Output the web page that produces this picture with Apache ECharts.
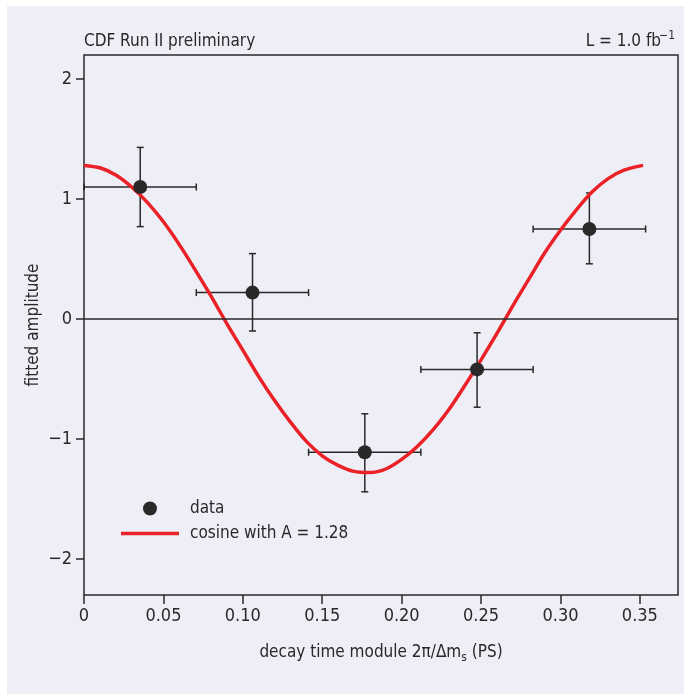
<!DOCTYPE html>
<html>
<head>
<meta charset="utf-8">
<script src="https://cdn.jsdelivr.net/npm/echarts@6/dist/echarts.min.js"></script>
<style>
  html, body { margin: 0; padding: 0; background: #ffffff; }
  #panel { position: absolute; left: 7px; top: 6px; width: 677px; height: 688px; background: #eeeef7; }
  #chart { position: absolute; left: 0; top: 0; width: 684px; height: 694px; }
</style>
</head>
<body>
<div id="panel"></div>
<div id="chart"></div>
<script>
// Binned asymmetry measurement (bin centres, bin edges, amplitude and its error band)
const binCenter = [0.0354, 0.1061, 0.1768, 0.2475, 0.3182];
const binLow    = [0.0000, 0.0707, 0.1414, 0.2121, 0.2828];
const binHigh   = [0.0707, 0.1414, 0.2121, 0.2828, 0.3536];
const amplitude = [1.10, 0.22, -1.11, -0.42, 0.75];
const ampLow    = [0.77, -0.10, -1.44, -0.735, 0.46];
const ampHigh   = [1.43, 0.545, -0.79, -0.115, 1.05];

// Fitted cosine curve, sampled along the decay-time axis
const fitT = [0.00, 0.01, 0.02, 0.03, 0.04, 0.05, 0.06, 0.07, 0.08, 0.09,
              0.10, 0.11, 0.12, 0.13, 0.14, 0.15, 0.16, 0.17, 0.18, 0.19,
              0.20, 0.21, 0.22, 0.23, 0.24, 0.25, 0.26, 0.27, 0.28, 0.29,
              0.30, 0.31, 0.32, 0.33, 0.34, 0.352];
const fitA = [1.28, 1.26, 1.20, 1.10, 0.97, 0.81, 0.62, 0.41, 0.19, -0.04,
              -0.26, -0.48, -0.68, -0.86, -1.02, -1.14, -1.22, -1.27, -1.28, -1.25,
              -1.17, -1.06, -0.92, -0.75, -0.55, -0.34, -0.12, 0.11, 0.33, 0.55,
              0.74, 0.91, 1.06, 1.17, 1.24, 1.28];

// Axis ticks
const xTicks = [0, 0.05, 0.10, 0.15, 0.20, 0.25, 0.30, 0.35];
const yTicks = [-2, -1, 0, 1, 2];

const FONT = "'Liberation Sans Narrow', 'DejaVu Sans Condensed', 'Liberation Sans', sans-serif";
const INK = '#2a2828';
const RED = '#ea2127';

const points = binCenter.map((x, i) => [x, amplitude[i]]);
const bars = binCenter.map((x, i) => [x, amplitude[i], binLow[i], binHigh[i], ampLow[i], ampHigh[i]]);
const curve = fitT.map((t, i) => [t, fitA[i]]);

const chart = echarts.init(document.getElementById('chart'), null, { renderer: 'canvas' });

chart.setOption({
  animation: false,
  backgroundColor: 'transparent',
  textStyle: { fontFamily: FONT, color: INK },
  grid: {
    left: 84, right: 6, top: 55, bottom: 99,
    show: true, borderColor: INK, borderWidth: 1.5, backgroundColor: 'transparent'
  },
  xAxis: {
    type: 'value', min: 0, max: 0.374,
    axisLine: { show: false, onZero: false },
    splitLine: { show: false },
    axisTick: { show: true, inside: false, length: 9, customValues: xTicks, lineStyle: { color: INK, width: 1.5 } },
    axisLabel: {
      customValues: xTicks, margin: 12, fontSize: 18, color: INK, fontFamily: FONT,
      formatter: v => v === 0 ? '0' : v.toFixed(2)
    },
    name: '{t|decay time module 2π/Δm}{s|s}{t| (PS)}',
    nameLocation: 'middle',
    nameGap: 47,
    nameTextStyle: {
      rich: {
        t: { fontSize: 17, color: INK, fontFamily: FONT },
        s: { fontSize: 12, color: INK, fontFamily: FONT, padding: [10, 0, 0, 0] }
      }
    }
  },
  yAxis: {
    type: 'value', min: -2.3, max: 2.2,
    axisLine: { show: false, onZero: false },
    splitLine: { show: false },
    axisTick: { show: true, inside: false, length: 8, customValues: yTicks, lineStyle: { color: INK, width: 1.5 } },
    axisLabel: {
      customValues: yTicks, margin: 12, fontSize: 18, color: INK, fontFamily: FONT,
      formatter: v => v < 0 ? '\u2212' + Math.abs(v) : String(v)
    },
    name: 'fitted amplitude',
    nameLocation: 'middle',
    nameGap: 42,
    nameMoveOverlap: false,
    nameTextStyle: { fontSize: 17, color: INK, fontFamily: FONT }
  },
  legend: {
    left: 116, top: 495, orient: 'vertical',
    itemWidth: 58, itemHeight: 14, itemGap: 8,
    textStyle: { fontSize: 17, color: INK, fontFamily: FONT, padding: [0, 0, 0, 6] },
    data: [
      { name: 'data', icon: 'circle', itemStyle: { color: INK } },
      { name: 'cosine with A = 1.28', icon: 'path://M0,0 L58,0 L58,3.5 L0,3.5 Z', itemStyle: { color: RED } }
    ]
  },
  graphic: [
    { type: 'text', left: 84, top: 33, style: { text: 'CDF Run II preliminary', font: '17px ' + FONT, fill: INK } },
    { type: 'text', right: 23, top: 33, style: { text: 'L = 1.0 fb', font: '17px ' + FONT, fill: INK } },
    { type: 'text', right: 9, top: 30, style: { text: '\u22121', font: '12px ' + FONT, fill: INK } }
  ],
  series: [
    {
      name: 'errors',
      type: 'custom',
      z: 2,
      data: bars,
      renderItem: (params, api) => {
        const xl = api.coord([api.value(2), api.value(1)]);
        const xh = api.coord([api.value(3), api.value(1)]);
        const yl = api.coord([api.value(0), api.value(4)]);
        const yh = api.coord([api.value(0), api.value(5)]);
        const style = { stroke: INK, lineWidth: 1.5 };
        const cap = 3.5;
        return {
          type: 'group',
          children: [
            { type: 'line', shape: { x1: xl[0], y1: xl[1], x2: xh[0], y2: xh[1] }, style },
            { type: 'line', shape: { x1: xl[0], y1: xl[1] - cap, x2: xl[0], y2: xl[1] + cap }, style },
            { type: 'line', shape: { x1: xh[0], y1: xh[1] - cap, x2: xh[0], y2: xh[1] + cap }, style },
            { type: 'line', shape: { x1: yl[0], y1: yl[1], x2: yh[0], y2: yh[1] }, style },
            { type: 'line', shape: { x1: yl[0] - cap, y1: yl[1], x2: yl[0] + cap, y2: yl[1] }, style },
            { type: 'line', shape: { x1: yh[0] - cap, y1: yh[1], x2: yh[0] + cap, y2: yh[1] }, style }
          ]
        };
      },
      markLine: {
        silent: true, symbol: 'none', label: { show: false },
        lineStyle: { color: INK, width: 1.5, type: 'solid' },
        data: [{ yAxis: 0 }]
      }
    },
    {
      name: 'cosine with A = 1.28',
      type: 'line',
      z: 3,
      data: curve,
      smooth: 0.3,
      showSymbol: false,
      symbol: 'none',
      lineStyle: { color: RED, width: 3.5 },
      itemStyle: { color: RED }
    },
    {
      name: 'data',
      type: 'scatter',
      z: 4,
      data: points,
      symbol: 'circle',
      symbolSize: 14,
      itemStyle: { color: INK, opacity: 1 }
    }
  ]
});
</script>
</body>
</html>
